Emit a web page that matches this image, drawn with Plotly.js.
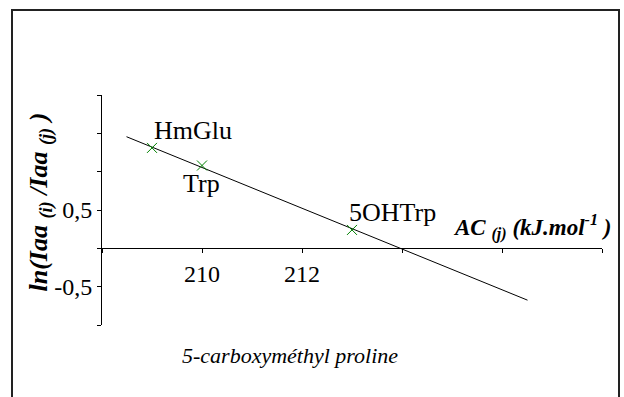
<!DOCTYPE html>
<html>
<head>
<meta charset="utf-8">
<script src="https://cdn.plot.ly/plotly-3.0.1.min.js"></script>
<style>html,body{margin:0;padding:0;background:#fff;}#chart{width:624px;height:397px;}</style>
</head>
<body>
<div id="chart"></div>
<script>
// Data
const labels = ["HmGlu", "Trp", "5OHTrp"];
const acValues = [209, 210, 213];
const lnRatios = [1.31, 1.08, 0.24];
const fitX = [208.49, 216.51];
const fitY = [1.456, -0.676];
const xTickVals = [210, 212];
const xTickText = ["210", "212"];
const yTickVals = [-0.5, 0.5];
const yTickText = ["-0,5", "0,5"];

const serif = "'Times New Roman', 'Liberation Serif', Tinos, 'DejaVu Serif', serif";

const labelOffsets = [
  {xanchor: "left", yanchor: "bottom", xshift: 0, yshift: 1},
  {xanchor: "center", yanchor: "top", xshift: -1, yshift: -1},
  {xanchor: "left", yanchor: "bottom", xshift: -5, yshift: 1}
];

const traces = [
  {x: fitX, y: fitY, mode: "lines", line: {color: "#000", width: 1}, hoverinfo: "skip"},
  {x: acValues, y: lnRatios, mode: "markers",
   marker: {symbol: "x-thin-open", size: 10, color: "#008000", line: {color: "#008000", width: 1}}}
];

const annotations = labels.map((t, i) => Object.assign({
  x: acValues[i], y: lnRatios[i], xref: "x", yref: "y", text: t, showarrow: false,
  font: {family: serif, size: 26, color: "#000"}
}, labelOffsets[i]));

annotations.push({
  xref: "paper", yref: "paper", x: 1.022, y: 1/3, xanchor: "right", yanchor: "bottom", yshift: 3,
  text: "<b><i>AC <sub>(j)</sub> (kJ.mol<sup>-1</sup> )</i></b>", showarrow: false,
  font: {family: serif, size: 23, color: "#000"}
});
annotations.push({
  xref: "paper", yref: "paper", x: -0.125, y: 0.5, xanchor: "center", yanchor: "middle", yshift: 8,
  textangle: -90,
  text: "<b><i>ln(Iaa <sub>(i)</sub> /Iaa <sub>(j)</sub> )</i></b>", showarrow: false,
  font: {family: serif, size: 26, color: "#000"}
});
annotations.push({
  xref: "paper", yref: "paper", x: 0.376, y: -0.07, xanchor: "center", yanchor: "top",
  text: "<i>5-carboxyméthyl proline</i>", showarrow: false,
  font: {family: serif, size: 22, color: "#000"}
});

const layout = {
  width: 624, height: 397,
  margin: {l: 102, r: 22, t: 95, b: 72, pad: 0},
  paper_bgcolor: "#fff", plot_bgcolor: "#fff",
  showlegend: false,
  font: {family: serif},
  xaxis: {
    range: [208, 218], showgrid: false, zeroline: false,
    anchor: "free", position: 1/3,
    showline: true, linecolor: "#000", linewidth: 1,
    ticks: "outside", ticklen: 4, tickcolor: "#000",
    tickmode: "array", tickvals: xTickVals, ticktext: xTickText,
    tickfont: {family: serif, size: 24, color: "#000"},
    minor: {tick0: 208, dtick: 2, ticks: "outside", ticklen: 4, tickcolor: "#000", showgrid: false}
  },
  yaxis: {
    range: [-1, 2], showgrid: false, zeroline: false,
    showline: true, linecolor: "#000", linewidth: 1,
    ticks: "outside", ticklen: 4, tickcolor: "#000",
    tickmode: "array", tickvals: yTickVals, ticktext: yTickText,
    tickfont: {family: serif, size: 24, color: "#000"},
    minor: {tick0: -1, dtick: 0.5, ticks: "outside", ticklen: 4, tickcolor: "#000", showgrid: false}
  },
  annotations: annotations,
  shapes: [{
    type: "rect", xref: "paper", yref: "paper",
    x0: -0.18, x1: 1.034, y0: -0.5, y1: 1.37,
    line: {color: "#222", width: 2}, fillcolor: "rgba(0,0,0,0)"
  }]
};

Plotly.newPlot("chart", traces, layout, {displayModeBar: false, staticPlot: true});
</script>
</body>
</html>
